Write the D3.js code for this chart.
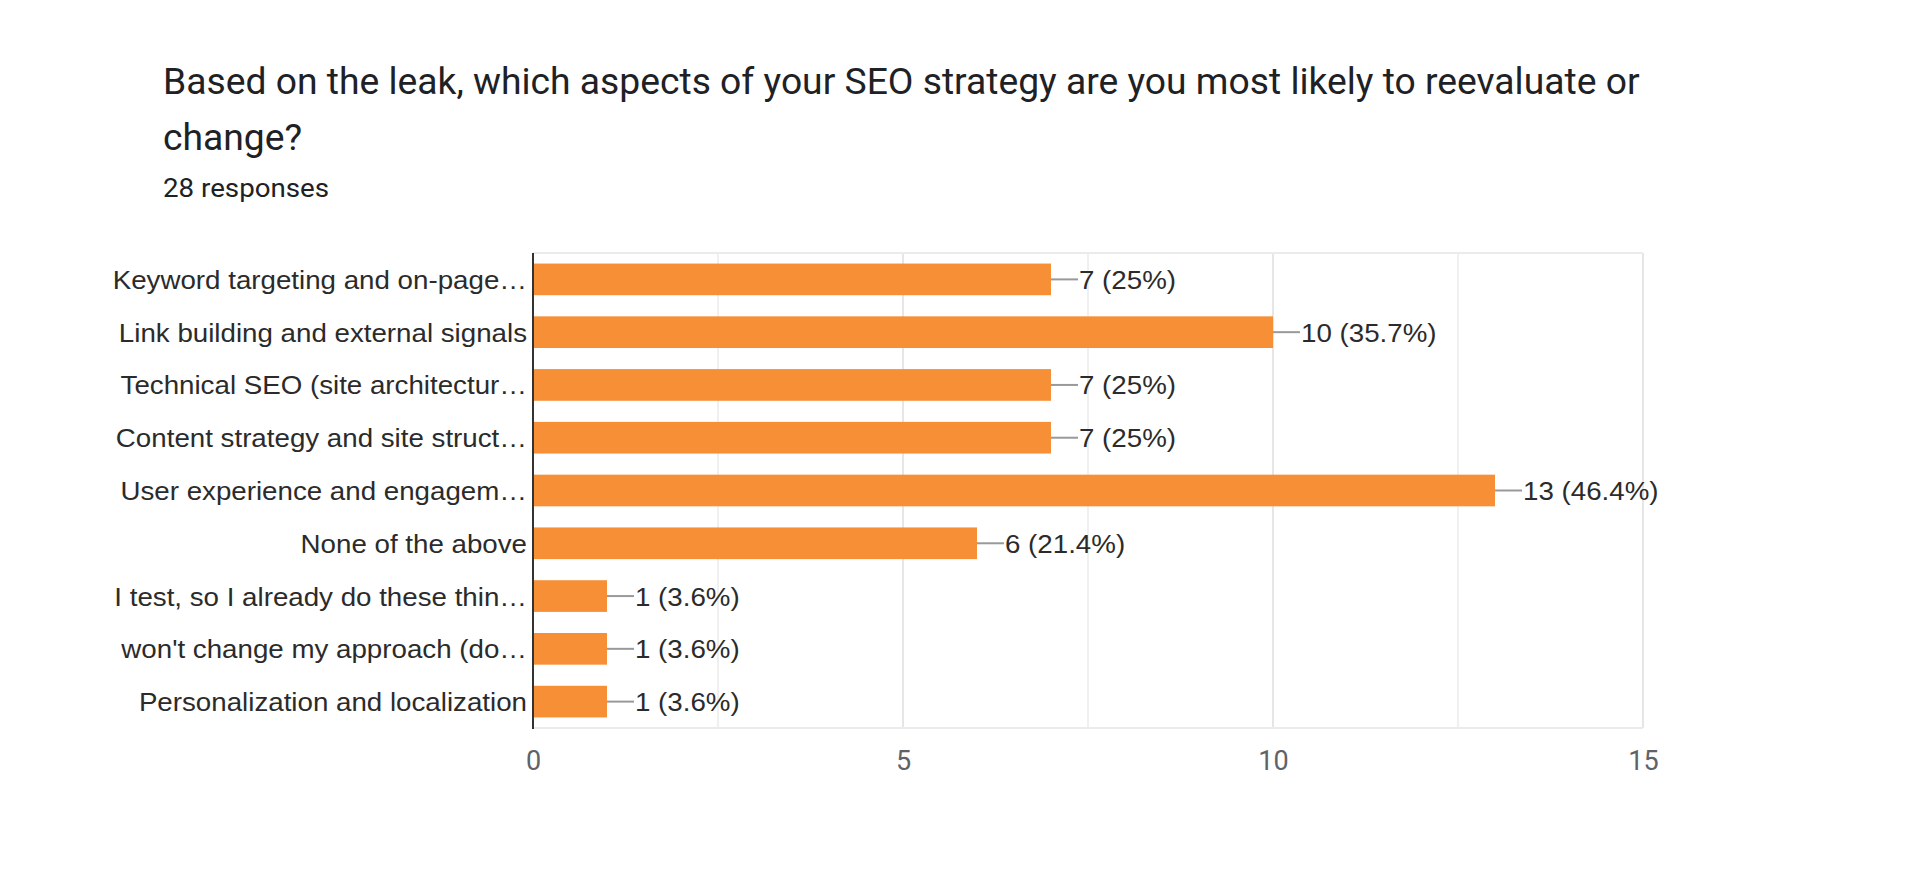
<!DOCTYPE html>
<html>
<head>
<meta charset="utf-8">
<script src="https://cdn.jsdelivr.net/npm/d3@7"></script>
<style>
  html, body { margin: 0; padding: 0; background: #fff; }
  svg { display: block; }
</style>
</head>
<body>
<svg id="chart" width="1920" height="869"></svg>
<script>
const titleLines = ["Based on the leak, which aspects of your SEO strategy are you most likely to reevaluate or", "change?"];
const subtitle = "28 responses";
const categories = [
  "Keyword targeting and on-page\u2026",
  "Link building and external signals",
  "Technical SEO (site architectur\u2026",
  "Content strategy and site struct\u2026",
  "User experience and engagem\u2026",
  "None of the above",
  "I test, so I already do these thin\u2026",
  "won't change my approach (do\u2026",
  "Personalization and localization"
];
const counts = [7, 10, 7, 7, 13, 6, 1, 1, 1];
const percentLabels = ["25%", "35.7%", "25%", "25%", "46.4%", "21.4%", "3.6%", "3.6%", "3.6%"];
const xTicks = [0, 5, 10, 15];
const gridValues = [2.5, 5, 7.5, 10, 12.5, 15];

(function () {
const svg = d3.select("#chart");
const plotLeft = 533, plotRight = 1643, plotTop = 253, plotBottom = 728;
const sx = 1.066; // horizontal stretch seen in reference text

// Title
const title = svg.append("g");
title.selectAll("text.t").data(titleLines).join("text")
  .attr("class", "t")
  .attr("x", 163)
  .attr("y", (d, i) => 94 + i * 56)
  .attr("font-family", "Roboto, 'Noto Sans', sans-serif")
  .attr("font-size", 34)
  .attr("fill", "#202124")
  .text(d => d);
const t0 = title.select("text.t").node();
const w0 = t0.getComputedTextLength();
const fs = 34 * 1477 / w0;
title.selectAll("text.t").attr("font-size", fs);

svg.append("text")
  .attr("transform", `translate(163,197) scale(${sx},1)`)
  .attr("font-family", "Roboto, 'Noto Sans', sans-serif")
  .attr("font-size", 26)
  .attr("fill", "#202124")
  .text(subtitle);

const x = d3.scaleLinear().domain([0, 15]).range([plotLeft, plotRight]);
const y = d3.scaleBand().domain(categories).range([plotTop, plotBottom]).paddingInner(0.4).paddingOuter(0.2);

// gridlines
svg.append("g").selectAll("line").data(gridValues).join("line")
  .attr("x1", d => x(d)).attr("x2", d => x(d))
  .attr("y1", plotTop).attr("y2", plotBottom)
  .attr("stroke", d => d % 5 === 0 ? "#e6e6e6" : "#f0f0f0")
  .attr("stroke-width", 2);
svg.append("line").attr("x1", plotLeft).attr("x2", plotRight).attr("y1", plotTop).attr("y2", plotTop)
  .attr("stroke", "#ebebeb").attr("stroke-width", 2);
svg.append("line").attr("x1", plotLeft).attr("x2", plotRight).attr("y1", plotBottom).attr("y2", plotBottom)
  .attr("stroke", "#ebebeb").attr("stroke-width", 2);

// bars
svg.append("g").selectAll("rect").data(counts).join("rect")
  .attr("x", x(0))
  .attr("y", (d, i) => y(categories[i]))
  .attr("width", d => x(d) - x(0))
  .attr("height", y.bandwidth())
  .attr("fill", "#f78f37");

// leader lines and value labels
const lab = svg.append("g");
lab.selectAll("line").data(counts).join("line")
  .attr("x1", d => x(d)).attr("x2", d => x(d) + 27)
  .attr("y1", (d, i) => y(categories[i]) + y.bandwidth() / 2)
  .attr("y2", (d, i) => y(categories[i]) + y.bandwidth() / 2)
  .attr("stroke", "#999").attr("stroke-width", 2);
lab.selectAll("text").data(counts).join("text")
  .attr("transform", (d, i) => `translate(${x(d) + 28},${y(categories[i]) + y.bandwidth() / 2 + 9.5}) scale(${sx},1)`)
  .attr("font-family", "'Liberation Sans', Arial, sans-serif")
  .attr("font-size", 26)
  .attr("fill", "#2b2b2b")
  .text((d, i) => `${d} (${percentLabels[i]})`);

// category labels
svg.append("g").selectAll("text").data(categories).join("text")
  .attr("transform", d => `translate(${plotLeft - 6},${y(d) + y.bandwidth() / 2 + 9.5}) scale(${sx},1)`)
  .attr("text-anchor", "end")
  .attr("font-family", "'Liberation Sans', Arial, sans-serif")
  .attr("font-size", 26)
  .attr("fill", "#2b2b2b")
  .text(d => d);

// left axis line
svg.append("line").attr("x1", plotLeft).attr("x2", plotLeft).attr("y1", plotTop).attr("y2", plotBottom + 1)
  .attr("stroke", "#333").attr("stroke-width", 2);

// x axis ticks
const xAxis = svg.append("g").attr("transform", `translate(0,${plotBottom})`)
  .call(d3.axisBottom(x).tickValues(xTicks).tickSize(0).tickPadding(0).tickFormat(d3.format("d")));
xAxis.select(".domain").remove();
xAxis.selectAll("text")
  .attr("dy", null)
  .attr("y", 42)
  .attr("font-family", "Roboto, 'Noto Sans', sans-serif")
  .attr("font-size", 27)
  .attr("fill", "#5f6368");
})();
</script>
</body>
</html>
